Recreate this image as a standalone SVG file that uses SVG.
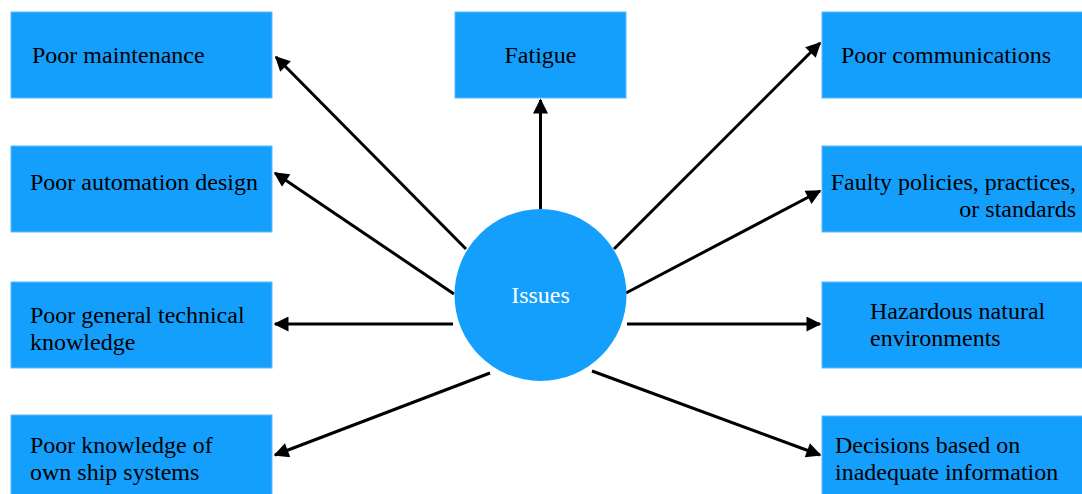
<svg xmlns="http://www.w3.org/2000/svg" width="1082" height="494" viewBox="0 0 1082 494">
<style>
.box{fill:#149ffd;stroke:#5cbcfd;stroke-width:1}
.t{font-family:"Liberation Serif","Times New Roman",serif;font-size:24px;fill:#000}
.w{fill:#fff;text-anchor:middle}
.c{stroke:#000;stroke-width:3;fill:none;marker-end:url(#ah)}
</style>
<defs>
<marker id="ah" viewBox="0 0 10 10" refX="9" refY="5" markerWidth="6" markerHeight="5" orient="auto" markerUnits="strokeWidth">
<path d="M0,0 L10,5 L0,10 z" fill="#000"/>
</marker>
</defs>
<g id="connectors">
<line class="c" x1="540.5" y1="209" x2="540.5" y2="100"/>
<line class="c" x1="466" y1="249" x2="276" y2="57"/>
<line class="c" x1="454" y1="294" x2="275" y2="173"/>
<line class="c" x1="453" y1="324" x2="275" y2="324"/>
<line class="c" x1="490" y1="373" x2="275" y2="455"/>
<line class="c" x1="614" y1="249" x2="820" y2="43"/>
<line class="c" x1="626" y1="293" x2="820" y2="191"/>
<line class="c" x1="627" y1="324" x2="820" y2="324"/>
<line class="c" x1="592" y1="371" x2="820" y2="455"/>
</g>
<g id="issues">
<circle cx="540.5" cy="295" r="86" fill="#149ffd"/>
<text class="t w" x="540.5" y="303">Issues</text>
</g>
<g id="poor-maintenance">
<rect class="box" x="11" y="12" width="261" height="86"/>
<text class="t" x="32" y="63">Poor maintenance</text>
</g>
<g id="poor-automation">
<rect class="box" x="11" y="146" width="261" height="86"/>
<text class="t" x="30" y="190">Poor automation design</text>
</g>
<g id="poor-general">
<rect class="box" x="11" y="282" width="261" height="86"/>
<text class="t" x="30" y="323">Poor general technical</text>
<text class="t" x="30" y="350">knowledge</text>
</g>
<g id="poor-knowledge">
<rect class="box" x="11" y="415" width="261" height="80"/>
<text class="t" x="30" y="453">Poor knowledge of</text>
<text class="t" x="30" y="480">own ship systems</text>
</g>
<g id="fatigue">
<rect class="box" x="455" y="12" width="171" height="86"/>
<text class="t" x="540.5" y="63" text-anchor="middle">Fatigue</text>
</g>
<g id="poor-communications">
<rect class="box" x="822" y="12" width="261" height="86"/>
<text class="t" x="841" y="63">Poor communications</text>
</g>
<g id="faulty-policies">
<rect class="box" x="822" y="146" width="261" height="86"/>
<text class="t" x="1076" y="190" text-anchor="end">Faulty policies, practices,</text>
<text class="t" x="1076" y="217" text-anchor="end">or standards</text>
</g>
<g id="hazardous">
<rect class="box" x="822" y="282" width="261" height="86"/>
<text class="t" x="870" y="319">Hazardous natural</text>
<text class="t" x="870" y="346">environments</text>
</g>
<g id="decisions">
<rect class="box" x="822" y="416" width="261" height="79"/>
<text class="t" x="835" y="453">Decisions based on</text>
<text class="t" x="835" y="480">inadequate information</text>
</g>
</svg>
